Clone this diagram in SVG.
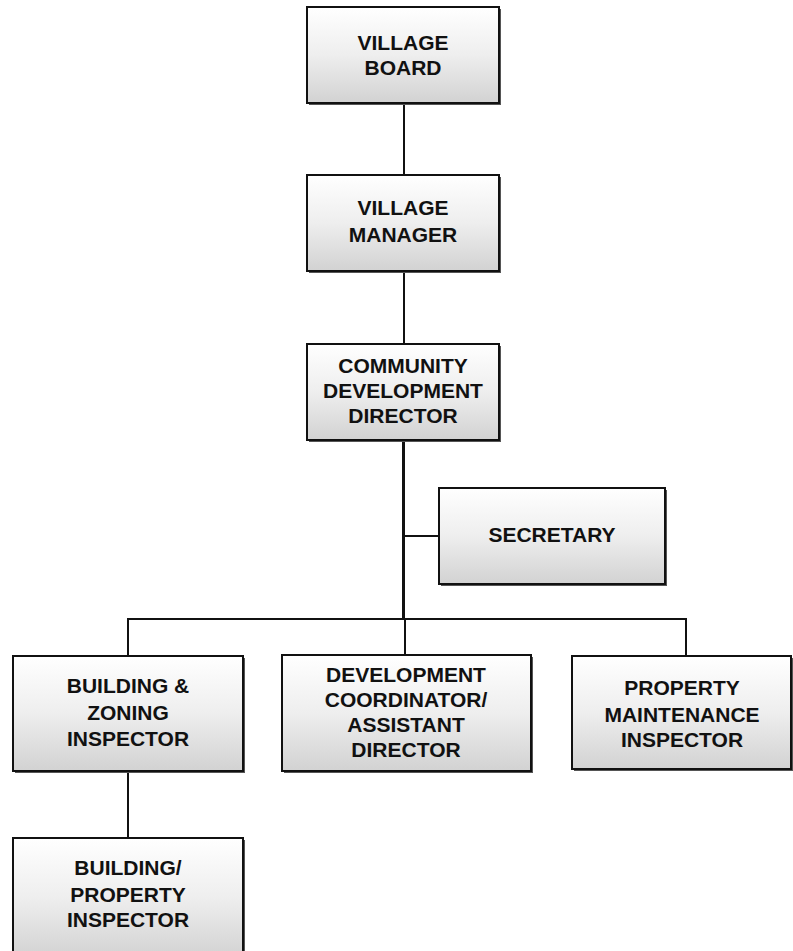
<svg xmlns="http://www.w3.org/2000/svg" width="793" height="951" viewBox="0 0 793 951">
  <defs>
    <linearGradient id="boxFill" x1="0" y1="0" x2="0" y2="1">
      <stop offset="0" stop-color="#ffffff"/>
      <stop offset="0.5" stop-color="#eeeeee"/>
      <stop offset="1" stop-color="#d2d2d2"/>
    </linearGradient>
  </defs>
  <style>
    .box { fill: url(#boxFill); stroke: #111; stroke-width: 2; }
    .shadow { fill: #555; }
    .lbl { font-family: "Liberation Sans", Arial, sans-serif; font-weight: bold; font-size: 21px; fill: #111; text-anchor: middle; }
    .wire { stroke: #111; stroke-width: 2; fill: none; }
    .trunk { stroke: #111; stroke-width: 3; fill: none; }
  </style>

  <!-- connectors -->
  <g id="connectors">
    <line class="wire" x1="404" y1="103" x2="404" y2="175"/>
    <line class="wire" x1="404" y1="272" x2="404" y2="344"/>
    <line class="trunk" x1="403.5" y1="440" x2="403.5" y2="620"/>
    <line class="wire" x1="404" y1="536" x2="439" y2="536"/>
    <polyline class="wire" points="128,655 128,619 686,619 686,655"/>
    <line class="wire" x1="405" y1="619" x2="405" y2="655"/>
    <line class="wire" x1="128" y1="771" x2="128" y2="838"/>
  </g>

  <g id="village-board">
    <rect class="shadow" x="309" y="9" width="192" height="96"/>
    <rect class="box" x="307" y="7" width="192" height="96"/>
    <text class="lbl" x="403" y="50">VILLAGE</text>
    <text class="lbl" x="403" y="75">BOARD</text>
  </g>

  <g id="village-manager">
    <rect class="shadow" x="309" y="177" width="192" height="96"/>
    <rect class="box" x="307" y="175" width="192" height="96"/>
    <text class="lbl" x="403" y="215">VILLAGE</text>
    <text class="lbl" x="403" y="242">MANAGER</text>
  </g>

  <g id="community-development-director">
    <rect class="shadow" x="309" y="346" width="192" height="96"/>
    <rect class="box" x="307" y="344" width="192" height="96"/>
    <text class="lbl" x="403" y="373">COMMUNITY</text>
    <text class="lbl" x="403" y="398">DEVELOPMENT</text>
    <text class="lbl" x="403" y="423">DIRECTOR</text>
  </g>

  <g id="secretary">
    <rect class="shadow" x="441" y="490" width="226" height="96"/>
    <rect class="box" x="439" y="488" width="226" height="96"/>
    <text class="lbl" x="552" y="542">SECRETARY</text>
  </g>

  <g id="building-zoning-inspector">
    <rect class="shadow" x="15" y="658" width="230" height="115"/>
    <rect class="box" x="13" y="656" width="230" height="115"/>
    <text class="lbl" x="128" y="693">BUILDING &amp;</text>
    <text class="lbl" x="128" y="720">ZONING</text>
    <text class="lbl" x="128" y="746">INSPECTOR</text>
  </g>

  <g id="development-coordinator">
    <rect class="shadow" x="284" y="657" width="249" height="116"/>
    <rect class="box" x="282" y="655" width="249" height="116"/>
    <text class="lbl" x="406" y="682">DEVELOPMENT</text>
    <text class="lbl" x="406" y="707">COORDINATOR/</text>
    <text class="lbl" x="406" y="732">ASSISTANT</text>
    <text class="lbl" x="406" y="757">DIRECTOR</text>
  </g>

  <g id="property-maintenance-inspector">
    <rect class="shadow" x="574" y="658" width="220" height="113"/>
    <rect class="box" x="572" y="656" width="219" height="113"/>
    <text class="lbl" x="682" y="695">PROPERTY</text>
    <text class="lbl" x="682" y="722">MAINTENANCE</text>
    <text class="lbl" x="682" y="747">INSPECTOR</text>
  </g>

  <g id="building-property-inspector">
    <rect class="shadow" x="15" y="840" width="230" height="120"/>
    <rect class="box" x="13" y="838" width="230" height="120"/>
    <text class="lbl" x="128" y="875">BUILDING/</text>
    <text class="lbl" x="128" y="902">PROPERTY</text>
    <text class="lbl" x="128" y="927">INSPECTOR</text>
  </g>
</svg>
